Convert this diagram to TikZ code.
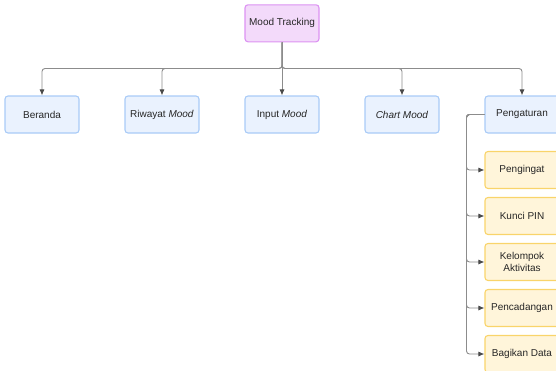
\documentclass[tikz,border=0pt]{standalone}
\usepackage{fontspec}
\setmainfont{Liberation Sans}
\usetikzlibrary{arrows.meta}
\definecolor{purfill}{HTML}{F3DAFA}
\definecolor{purdraw}{HTML}{DC92F2}
\definecolor{bluefill}{HTML}{EAF2FE}
\definecolor{bluedraw}{HTML}{A9CBF7}
\definecolor{yelfill}{HTML}{FFF5DA}
\definecolor{yeldraw}{HTML}{F9D46A}
\definecolor{linegray}{HTML}{8C8C8C}
\definecolor{tipgray}{HTML}{4A4A4A}
\definecolor{txt}{HTML}{262626}
\tikzset{
  box/.style={rectangle, rounded corners=3pt, line width=1.1pt, minimum width=74pt, minimum height=37pt, inner sep=2pt, font=\fontsize{10}{12}\selectfont, text=txt, align=center},
  rootbox/.style={box, fill=purfill, draw=purdraw},
  bluebox/.style={box, fill=bluefill, draw=bluedraw},
  yelbox/.style={box, fill=yelfill, draw=yeldraw},
  conn/.style={draw=linegray, line width=0.9pt, rounded corners=3pt, -{Latex[length=6pt,width=5pt,color=tipgray]}},
}
\begin{document}
\begin{tikzpicture}[x=1pt,y=-1pt]
\useasboundingbox (0,0) rectangle (556,370);
\clip (0,0) rectangle (556,370);
\node[rootbox] (root) at (282,23.3) {Mood Tracking};
\node[bluebox] (b1) at (42,114.5) {Beranda};
\node[bluebox] (b2) at (162,114.5) {Riwayat \textit{Mood}};
\node[bluebox] (b3) at (282,114.5) {Input \textit{Mood}};
\node[bluebox] (b4) at (402,114.5) {\textit{Chart Mood}};
\node[bluebox] (b5) at (522,114.5) {Pengaturan};
\node[yelbox] (c1) at (522,170) {Pengingat};
\node[yelbox] (c2) at (522,216) {Kunci PIN};
\node[yelbox] (c3) at (522,262) {Kelompok\\Aktivitas};
\node[yelbox] (c4) at (522,308) {Pencadangan};
\node[yelbox] (c5) at (522,354) {Bagikan Data};
\coordinate (bar) at (0,68.5);
\coordinate (spine) at (466.5,0);
\draw[conn] (root.south) -- (root.south |- bar) -| (b1.north);
\draw[conn] (root.south) -- (root.south |- bar) -| (b2.north);
\draw[conn] (root.south) -- (b3.north);
\draw[conn] (root.south) -- (root.south |- bar) -| (b4.north);
\draw[conn] (root.south) -- (root.south |- bar) -| (b5.north);
\draw[conn] (b5.west) -- (b5.west -| spine) |- (c1.west);
\draw[conn] (b5.west) -- (b5.west -| spine) |- (c2.west);
\draw[conn] (b5.west) -- (b5.west -| spine) |- (c3.west);
\draw[conn] (b5.west) -- (b5.west -| spine) |- (c4.west);
\draw[conn] (b5.west) -- (b5.west -| spine) |- (c5.west);
\end{tikzpicture}
\end{document}
